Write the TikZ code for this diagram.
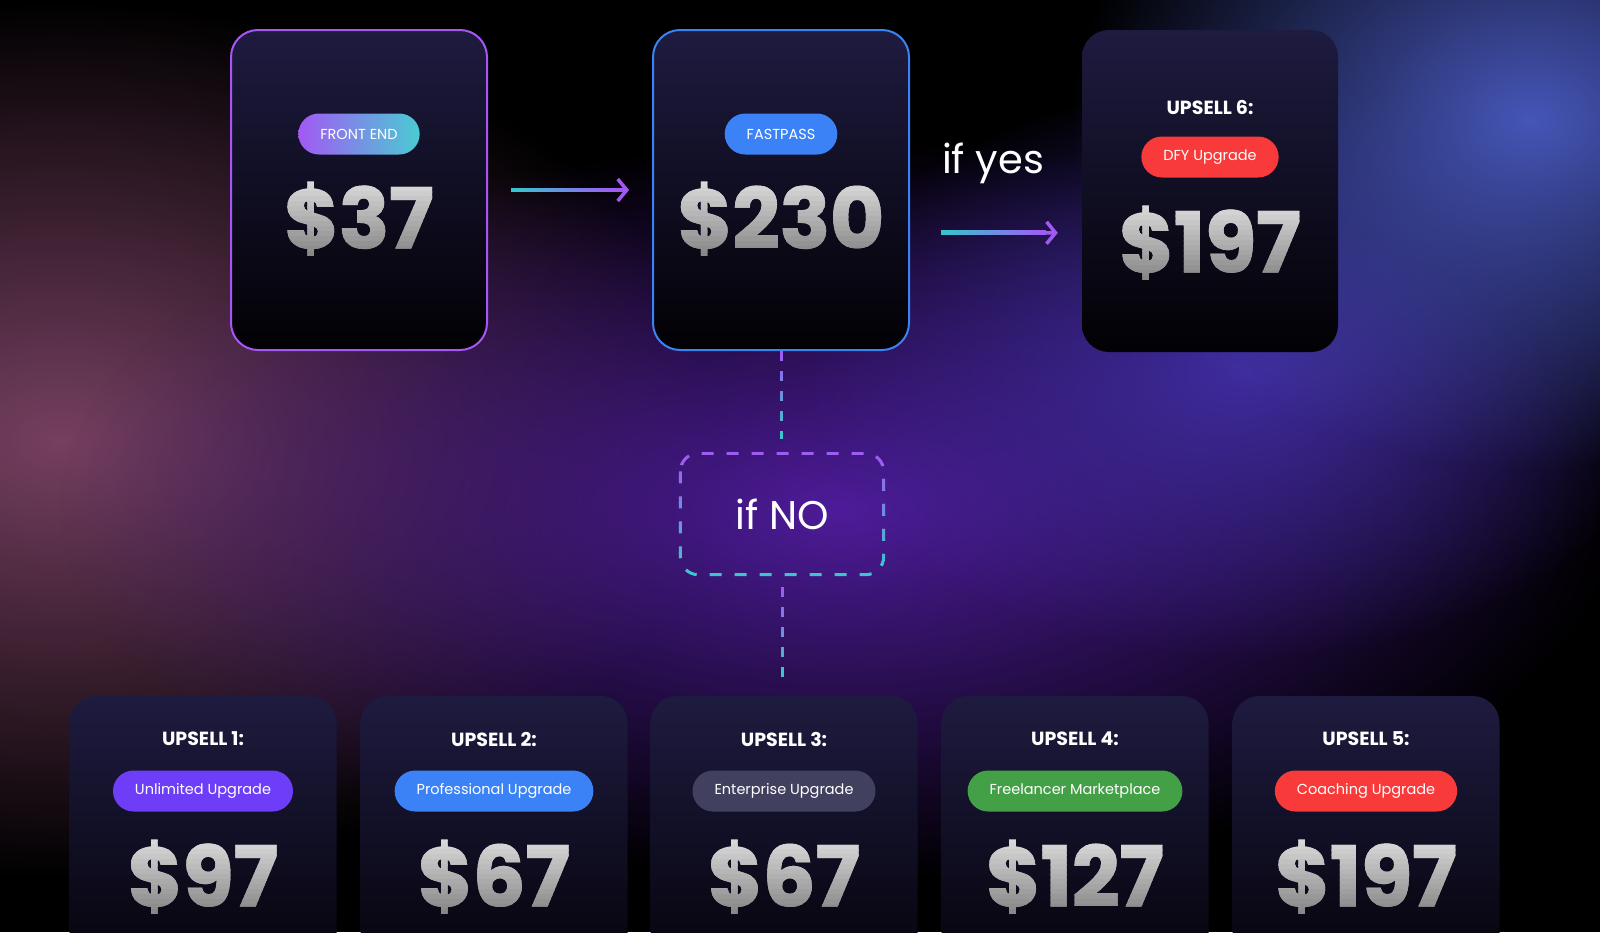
\documentclass[tikz,border=0pt]{standalone}
\usepackage{fontspec}
\setmainfont{Poppins}
\newfontfamily\heavy{Poppins}[BoldFeatures={FakeBold=1.5}]
\usetikzlibrary{arrows.meta,fadings,positioning,calc}

\definecolor{cardtop}{HTML}{1E1B40}
\definecolor{cardbot}{HTML}{020104}
\definecolor{glowpink}{HTML}{764060}
\definecolor{glowviolet}{HTML}{4E1C9A}
\definecolor{glowindigo}{HTML}{3F2C9E}
\definecolor{glowblue}{HTML}{4656B8}
\definecolor{fepurple}{HTML}{A855F7}
\definecolor{fpblue}{HTML}{3B82F6}
\definecolor{arrteal}{HTML}{35C6CE}
\definecolor{arrpurple}{HTML}{A259F4}
\definecolor{dashpurple}{HTML}{9D5CF2}
\definecolor{dashteal}{HTML}{3CC6CC}
\definecolor{pillviolet}{HTML}{6D3DF8}
\definecolor{pillblue}{HTML}{3B82F6}
\definecolor{pillslate}{HTML}{41415F}
\definecolor{pillgreen}{HTML}{43A047}
\definecolor{pillred}{HTML}{F83A3A}
\definecolor{pricehi}{HTML}{DEDEDE}
\definecolor{pricelo}{HTML}{888888}

\tikzfading[name=glow, inner color=transparent!0, outer color=transparent!100]

\tikzset{
  card/.style={minimum width=256pt, minimum height=320pt, rounded corners=27pt,
    top color=cardtop, bottom color=cardbot, inner sep=0pt},
  pill/.style={rounded corners=20.5pt, minimum height=41pt, inner xsep=22pt,
    text=white, font=\fontsize{14.5}{16}\selectfont},
  title/.style={text=white, font=\bfseries\fontsize{19}{22}\selectfont},
  pricetxt/.style={anchor=base, inner sep=0pt, font=\heavy\bfseries\fontsize{83}{90}\selectfont},
  hand/.style={text=white, font=\fontsize{40}{44}\selectfont},
  dashline/.style={line width=3pt, dash pattern=on 10pt off 10pt},
  flow/.style={draw=arrpurple, line width=3.5pt, -{Straight Barb[length=9pt,width=22pt]}}
}

% price in thin grey bands, light on top
\newcommand\price[4]{%
  \node[pricetxt, text=pricelo] (#1) at (#2,#3) {#4};
  \foreach \i in {0,...,15}{
    \pgfmathsetmacro\p{100-\i*100/15}
    \colorlet{band}{pricehi!\p!pricelo}
    \begin{scope}
      \clip (#2-160,#3-72+\i*5) rectangle (#2+160,#3-72+\i*5+6);
      \node[pricetxt, text=band] at (#2,#3) {#4};
    \end{scope}}}

% purple to teal from top to bottom
\newcommand\vbands[3]{%
  \foreach \i in {0,...,9}{
    \pgfmathsetmacro\p{\i*100/9}
    \colorlet{band}{dashteal!\p!dashpurple}
    \begin{scope}
      \clip (0,{#1+(#2-#1)*\i/10}) rectangle (1600,{#1+(#2-#1)*(\i+1)/10+1});
      #3
    \end{scope}}}

\begin{document}
\begin{tikzpicture}[x=1pt,y=-1pt]
    \useasboundingbox (0,0) rectangle (1600,932);
    \clip (0,0) rectangle (1600,932);
    % Background glows
    \fill[black] (0,0) rectangle (1600,932);
    \fill[glowpink, path fading=glow] (60,440) ellipse [x radius=660, y radius=440];
    \fill[glowviolet, path fading=glow] (840,510) ellipse [x radius=780, y radius=370];
    \fill[glowindigo, path fading=glow] (1240,370) ellipse [x radius=440, y radius=290];
    \fill[glowblue, path fading=glow] (1530,120) ellipse [x radius=460, y radius=350];

    % Top row
    \node[card, draw=fepurple, line width=2pt] (fe) at (359,190) {};
    \node[card, draw=fpblue, line width=2pt] (fast) at (781,190) {};
    \node[card, minimum height=322pt] (up6) at (1210,191) {};
    \node[pill, left color=arrpurple, right color=arrteal!90!white] (pfe) at (359,134) {FRONT END};
    \node[pill, fill=fpblue] (pfast) at (781,134) {FASTPASS};
    \node[title] (t6) at (1210,107) {UPSELL 6:};
    \node[pill, fill=pillred] (p6) at (1210,157) {DFY Upgrade};
    \price{vfe}{359}{248}{\$37}
    \price{vfast}{781}{248}{\$230}
    \price{v6}{1210}{272}{\$197}

    % Bottom row
    \foreach \x/\n/\tag/\col/\amt in {203/1/Unlimited Upgrade/pillviolet/\$97,
        494/2/Professional Upgrade/pillblue/\$67, 784/3/Enterprise Upgrade/pillslate/\$67,
        1075/4/Freelancer Marketplace/pillgreen/\$127, 1366/5/Coaching Upgrade/pillred/\$197}
    {
        \node[card, minimum width=267pt, minimum height=304pt] (up\n) at (\x,848) {};
        \node[title] (t\n) at (\x,739) {UPSELL \n:};
        \node[pill, fill=\col] (p\n) at (\x,791) {\tag};
        \price{v\n}{\x}{906}{\amt}
    }

    % Arrows
    \draw[flow, shorten <=23pt, shorten >=23pt] (fe) -- (fast);
    \fill[left color=arrteal, right color=arrpurple]
        ([shift={(23pt,1.75pt)}]fe.east) rectangle ([shift={(-35pt,-1.75pt)}]fast.west);
    \draw[flow, shorten <=31pt, shorten >=24pt] ([yshift=-42pt]fast.east) -- ([yshift=-42pt]up6.west);
    \fill[left color=arrteal, right color=arrpurple]
        ([shift={(31pt,-40.25pt)}]fast.east) rectangle ([shift={(-36pt,-43.75pt)}]up6.west);
    \node[hand] (yes) at (993,163) {if yes};

    % if NO box and dashed links
    \node[hand, minimum width=203pt, minimum height=121pt] (ifno) at (782,514) {if NO};
    \vbands{350}{440}{\draw[dashline, band, shorten >=14pt] (fast.south) -- (fast.south |- ifno.north);}
    \vbands{452}{577}{\draw[band, line width=3pt, dash pattern=on 12pt off 13pt, rounded corners=18pt]
        (ifno.north west) rectangle (ifno.south east);}
    \vbands{587}{677}{\draw[dashline, band, shorten <=12pt, shorten >=19pt] (ifno.south) -- (ifno.south |- up3.north);}
\end{tikzpicture}
\end{document}
